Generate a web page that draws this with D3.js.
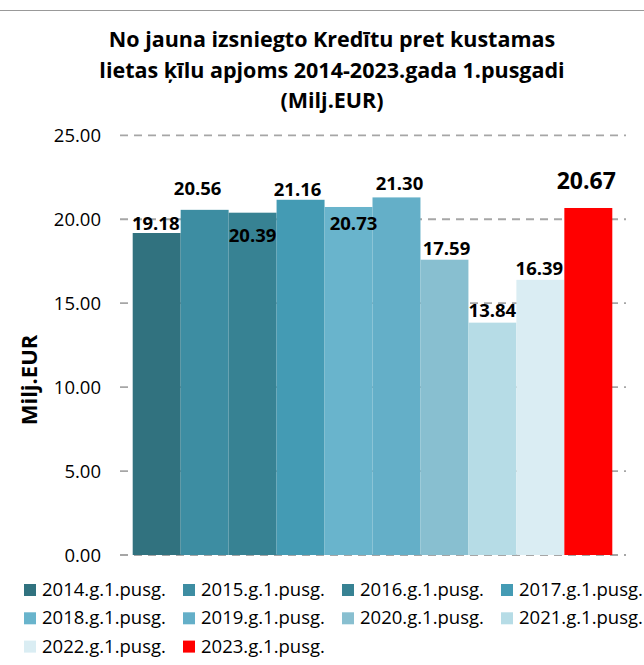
<!DOCTYPE html>
<html lang="lv">
<head>
  <meta charset="UTF-8" />
  <title>Kredīti pret kustamas lietas ķīlu</title>
  <script src="https://d3js.org/d3.v7.min.js"></script>
  <style>
    body { margin: 0; background: #fff; }
    svg { display: block; font-family: "Open Sans", "Noto Sans", sans-serif; }
  </style>
</head>
<body>
  <svg id="chart" width="644" height="665"></svg>
  <script>
    // dati
    const periods = ["2014.g.1.pusg.", "2015.g.1.pusg.", "2016.g.1.pusg.", "2017.g.1.pusg.", "2018.g.1.pusg.",
                     "2019.g.1.pusg.", "2020.g.1.pusg.", "2021.g.1.pusg.", "2022.g.1.pusg.", "2023.g.1.pusg."];
    const values = [19.18, 20.56, 20.39, 21.16, 20.73, 21.30, 17.59, 13.84, 16.39, 20.67];
    const colors = ["#31727f", "#3d8da2", "#378293", "#449bb4", "#69b4cc",
                    "#64afc8", "#88bfd0", "#b6dce6", "#daedf3", "#ff0000"];
    const yTicks = [0, 5, 10, 15, 20, 25];
    const titleLines = ["No jauna izsniegto Kredītu pret kustamas",
                        "lietas ķīlu apjoms 2014-2023.gada 1.pusgadi",
                        "(Milj.EUR)"];

    // etiķešu novietojums (kā oriģinālā, pārvietotas ar roku)
    const labelDx = [-1, -7, 0, -3, 5, 3, 2, 0, -1, -2];
    const labelDy = [-3, -15, 29, -4, 23, -7, -5, -6, -5, -19];

    const svg = d3.select("#chart");

    // augšējā robeža
    svg.append("line")
      .attr("x1", 0).attr("x2", 644).attr("y1", 10.5).attr("y2", 10.5)
      .attr("stroke", "#999").attr("stroke-width", 1.2);

    // virsraksts
    svg.append("g").selectAll("text")
      .data(titleLines)
      .join("text")
      .attr("x", 332)
      .attr("y", (d, i) => 47 + i * 30.5)
      .attr("text-anchor", "middle")
      .attr("font-size", "21.5px")
      .attr("font-weight", "bold")
      .attr("fill", "#000")
      .text(d => d);

    const x = d3.scaleBand().domain(periods).range([132.7, 612.3]).padding(0);
    const y = d3.scaleLinear().domain([0, 25]).range([555, 135.3]);

    // režģa līnijas
    svg.append("g").selectAll("line")
      .data(yTicks)
      .join("line")
      .attr("x1", 120).attr("x2", 626)
      .attr("y1", d => y(d)).attr("y2", d => y(d))
      .attr("stroke", "#a6a6a6")
      .attr("stroke-width", 1.8)
      .attr("stroke-dasharray", "8,6");

    // Y ass
    const yAxis = svg.append("g")
      .attr("transform", "translate(101,0)")
      .call(d3.axisLeft(y).tickValues(yTicks).tickFormat(d3.format(".2f")).tickSize(0).tickPadding(0));
    yAxis.select(".domain").remove();
    yAxis.selectAll("text")
      .attr("font-size", "18.5px")
      .attr("font-family", "'Open Sans', sans-serif")
      .attr("fill", "#000")
      .attr("dy", "0.36em");

    svg.append("text")
      .attr("transform", "translate(37,380) rotate(-90)")
      .attr("text-anchor", "middle")
      .attr("font-size", "22px")
      .attr("font-weight", "bold")
      .text("Milj.EUR");

    // stabiņi
    svg.append("g").selectAll("rect")
      .data(values)
      .join("rect")
      .attr("x", (d, i) => x(periods[i]))
      .attr("y", d => y(d))
      .attr("width", x.bandwidth())
      .attr("height", d => y(0) - y(d))
      .attr("fill", (d, i) => colors[i]);

    // vērtību etiķetes
    svg.append("g").selectAll("text")
      .data(values)
      .join("text")
      .attr("x", (d, i) => x(periods[i]) + x.bandwidth() / 2 + labelDx[i])
      .attr("y", (d, i) => y(d) + labelDy[i])
      .attr("text-anchor", "middle")
      .attr("font-weight", "bold")
      .attr("font-size", (d, i) => i === values.length - 1 ? "23px" : "18.5px")
      .attr("fill", "#000")
      .text(d => d.toFixed(2));

    // leģenda
    const legend = svg.append("g").selectAll("g")
      .data(periods)
      .join("g")
      .attr("transform", (d, i) => `translate(${24 + (i % 4) * 159},${584 + Math.floor(i / 4) * 28.3})`);
    legend.append("rect")
      .attr("width", 12).attr("height", 12)
      .attr("fill", (d, i) => colors[i]);
    legend.append("text")
      .attr("x", 18).attr("y", 12)
      .attr("font-size", "18.5px")
      .attr("fill", "#000")
      .text(d => d);
  </script>
</body>
</html>
